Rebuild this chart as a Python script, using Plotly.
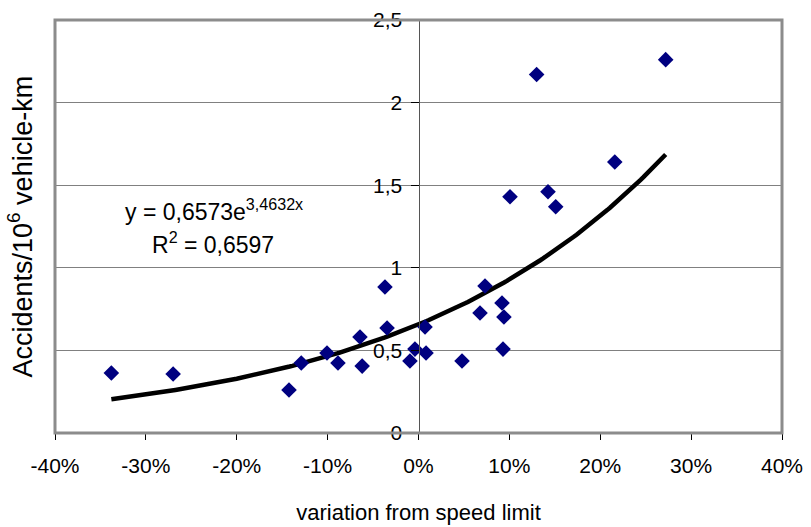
import numpy as np
import plotly.graph_objects as go

# Data (variation from speed limit as fraction, accidents per 10^6 vehicle-km)
variation = [-0.338, -0.270, -0.1425, -0.129, -0.1007, -0.0886, -0.0644, -0.062,
             -0.0369, -0.0346, -0.0094, -0.0039, 0.0072, 0.0083, 0.0479, 0.0677,
             0.0732, 0.0919, 0.094, 0.093, 0.1007, 0.130, 0.1425, 0.151, 0.216, 0.272]
accidents = [0.363, 0.357, 0.26, 0.424, 0.484, 0.424, 0.581, 0.405,
             0.884, 0.636, 0.436, 0.508, 0.642, 0.484, 0.436, 0.726,
             0.89, 0.787, 0.702, 0.508, 1.43, 2.17, 1.46, 1.37, 1.64, 2.26]

# Exponential trendline coefficients (as shown on chart)
trend_a = 0.6573
trend_b = 3.4632

x_ticks = [-0.4, -0.3, -0.2, -0.1, 0.0, 0.1, 0.2, 0.3, 0.4]
x_ticktext = ["-40%", "-30%", "-20%", "-10%", "0%", "10%", "20%", "30%", "40%"]
y_ticks = [0, 0.5, 1, 1.5, 2, 2.5]
y_ticktext = ["0", "0,5", "1", "1,5", "2", "2,5"]

trend_x = np.linspace(min(variation), max(variation), 200)
trend_y = trend_a * np.exp(trend_b * trend_x)

FONT = "Liberation Sans, Arial, sans-serif"

fig = go.Figure()
fig.add_trace(go.Scatter(
    x=trend_x, y=trend_y, mode="lines",
    line=dict(color="black", width=4.5), hoverinfo="skip", showlegend=False))
fig.add_trace(go.Scatter(
    x=variation, y=accidents, mode="markers",
    marker=dict(symbol="diamond", size=12, color="#000080"),
    showlegend=False))

fig.update_layout(
    width=811, height=527,
    margin=dict(l=55, r=29, t=20, b=94),
    paper_bgcolor="white", plot_bgcolor="white",
    font=dict(family=FONT, size=21, color="black"),
    xaxis=dict(
        range=[-0.4, 0.4], tickvals=x_ticks, ticktext=x_ticktext,
        showgrid=False, zeroline=False, showline=False,
        ticks="outside", ticklen=6, tickcolor="black", tickwidth=1,
        ticklabelstandoff=8, automargin=False,
        tickfont=dict(size=21),
        title=dict(text="variation from speed limit", standoff=28,
                   font=dict(size=22)),
    ),
    yaxis=dict(
        range=[0, 2.5], tickvals=y_ticks, ticktext=y_ticktext,
        anchor="free", position=0.5, automargin=False,
        showgrid=True, gridcolor="#808080", gridwidth=1,
        zeroline=False, showline=True, linecolor="#555555", linewidth=1,
        ticks="outside", ticklen=8, tickcolor="black",
        ticklabelstandoff=4,
        tickfont=dict(size=21),
        title=dict(text=""),
    ),
    shapes=[dict(type="rect", xref="paper", yref="paper", x0=0, y0=0, x1=1, y1=1,
                 line=dict(color="#8c8c8c", width=3))],
    annotations=[
        dict(text="y = 0,6573e<sup>3,4632x</sup>", xref="x", yref="y",
             x=-0.225, y=1.35, showarrow=False, font=dict(size=23)),
        dict(text="R<sup>2</sup> = 0,6597", xref="x", yref="y",
             x=-0.226, y=1.15, showarrow=False, font=dict(size=23)),
        dict(text="Accidents/10<sup>6</sup> vehicle-km", xref="paper", yref="paper",
             x=-35/727, y=0.5, xanchor="center", yanchor="middle",
             textangle=-90, showarrow=False, font=dict(size=27)),
    ],
)

fig.write_html("out.html")
